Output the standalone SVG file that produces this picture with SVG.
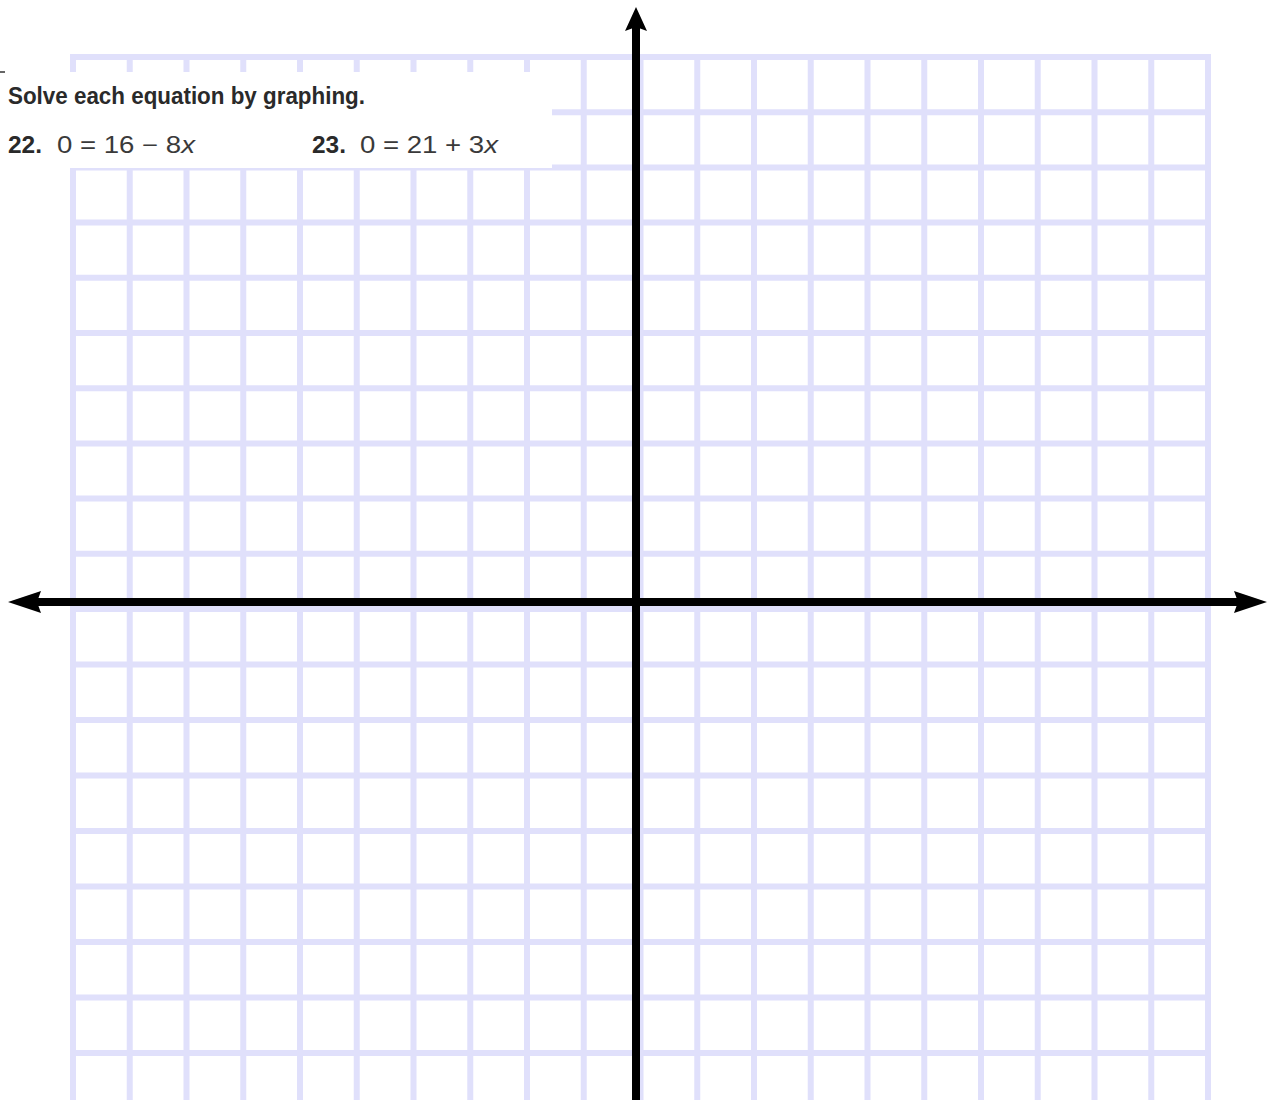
<svg xmlns="http://www.w3.org/2000/svg" width="1271" height="1100" viewBox="0 0 1271 1100">
<style>
.grid line{stroke:#e0e0fb;stroke-width:6}
.axis{stroke:#000;stroke-width:8}
.head{fill:#000}
.t{font-family:"Liberation Sans",Arial,sans-serif;font-size:23px;fill:#2a2a2a}
.b{font-weight:bold}
.r{fill:#3a3a3a}
</style>
<rect width="1271" height="1100" fill="#fff"/>
<g id="grid" class="grid">
<line x1="73" y1="54" x2="73" y2="1100"/>
<line x1="129.75" y1="54" x2="129.75" y2="1100"/>
<line x1="186.5" y1="54" x2="186.5" y2="1100"/>
<line x1="243.25" y1="54" x2="243.25" y2="1100"/>
<line x1="300" y1="54" x2="300" y2="1100"/>
<line x1="356.75" y1="54" x2="356.75" y2="1100"/>
<line x1="413.5" y1="54" x2="413.5" y2="1100"/>
<line x1="470.25" y1="54" x2="470.25" y2="1100"/>
<line x1="527" y1="54" x2="527" y2="1100"/>
<line x1="583.75" y1="54" x2="583.75" y2="1100"/>
<line x1="640.5" y1="54" x2="640.5" y2="1100"/>
<line x1="697.25" y1="54" x2="697.25" y2="1100"/>
<line x1="754" y1="54" x2="754" y2="1100"/>
<line x1="810.75" y1="54" x2="810.75" y2="1100"/>
<line x1="867.5" y1="54" x2="867.5" y2="1100"/>
<line x1="924.25" y1="54" x2="924.25" y2="1100"/>
<line x1="981" y1="54" x2="981" y2="1100"/>
<line x1="1037.75" y1="54" x2="1037.75" y2="1100"/>
<line x1="1094.5" y1="54" x2="1094.5" y2="1100"/>
<line x1="1151.25" y1="54" x2="1151.25" y2="1100"/>
<line x1="1208" y1="54" x2="1208" y2="1100"/>
<line x1="70" y1="57" x2="1211" y2="57"/>
<line x1="70" y1="112.2" x2="1211" y2="112.2"/>
<line x1="70" y1="167.4" x2="1211" y2="167.4"/>
<line x1="70" y1="222.6" x2="1211" y2="222.6"/>
<line x1="70" y1="277.8" x2="1211" y2="277.8"/>
<line x1="70" y1="333" x2="1211" y2="333"/>
<line x1="70" y1="388.2" x2="1211" y2="388.2"/>
<line x1="70" y1="443.4" x2="1211" y2="443.4"/>
<line x1="70" y1="498.6" x2="1211" y2="498.6"/>
<line x1="70" y1="553.8" x2="1211" y2="553.8"/>
<line x1="70" y1="609" x2="1211" y2="609"/>
<line x1="70" y1="664.5" x2="1211" y2="664.5"/>
<line x1="70" y1="720" x2="1211" y2="720"/>
<line x1="70" y1="775.5" x2="1211" y2="775.5"/>
<line x1="70" y1="831" x2="1211" y2="831"/>
<line x1="70" y1="886.5" x2="1211" y2="886.5"/>
<line x1="70" y1="942" x2="1211" y2="942"/>
<line x1="70" y1="997.5" x2="1211" y2="997.5"/>
<line x1="70" y1="1053" x2="1211" y2="1053"/>
</g>
<g id="textbox">
<rect x="0" y="72" width="552" height="96" fill="#fff"/>
<line x1="0" y1="72" x2="5" y2="72" stroke="#333" stroke-width="1.5"/>
<text class="t b" x="8" y="104" textLength="357" lengthAdjust="spacingAndGlyphs">Solve each equation by graphing.</text>
<text class="t b" x="8" y="153" textLength="34" lengthAdjust="spacingAndGlyphs">22.</text>
<text class="t r" x="57" y="153" textLength="138" lengthAdjust="spacingAndGlyphs">0 = 16 − 8<tspan font-style="italic">x</tspan></text>
<text class="t b" x="312" y="153" textLength="34" lengthAdjust="spacingAndGlyphs">23.</text>
<text class="t r" x="360" y="153" textLength="138" lengthAdjust="spacingAndGlyphs">0 = 21 + 3<tspan font-style="italic">x</tspan></text>
</g>
<g id="axes">
<line class="axis" x1="30" y1="602" x2="1245" y2="602"/>
<line class="axis" x1="636" y1="24" x2="636" y2="1100"/>
<polygon class="head" points="8,602 41,591 37,602 41,613"/>
<polygon class="head" points="1267,602 1234,591 1238,602 1234,613"/>
<polygon class="head" points="636,7 625,31 636,27 647,31"/>
</g>
</svg>
